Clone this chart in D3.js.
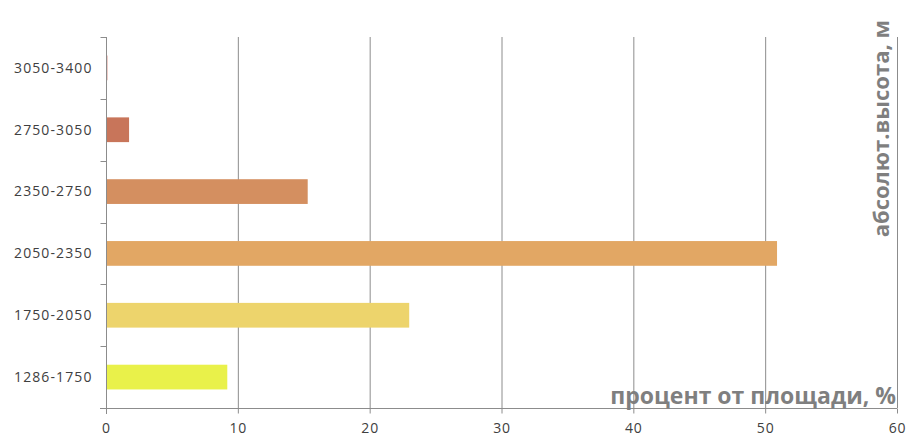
<!DOCTYPE html>
<html><head><meta charset="utf-8">
<script src="https://cdn.jsdelivr.net/npm/d3@7/dist/d3.min.js"></script>
<style>
body{margin:0;background:#fff;}
svg{display:block;}
</style></head>
<body>
<script>
const categories = ["3050-3400","2750-3050","2350-2750","2050-2350","1750-2050","1286-1750"];
const values = [0.1, 1.75, 15.3, 50.9, 23.0, 9.2];
const colors = ["#c9604f","#c8755a","#d48f60","#e2a764","#edd46c","#e9f14a"];
const xTicks = [0,10,20,30,40,50,60];
const xTitle = "процент от площади, %";
const yTitle = "абсолют.высота, м";

const W = 908, H = 439;
const m = {left:106, right:11, top:37, bottom:31};
const svg = d3.select("body").append("svg").attr("width",W).attr("height",H);

const x = d3.scaleLinear().domain([0,60]).range([m.left, W-m.right]);
const y = d3.scaleBand().domain(categories).range([m.top, H-m.bottom]).paddingInner(0.6).paddingOuter(0.3);
const band = d3.scaleBand().domain(categories).range([m.top, H-m.bottom]);

// gridlines
svg.append("g").selectAll("line").data(xTicks.slice(1)).join("line")
  .attr("x1",d=>x(d)+0.5).attr("x2",d=>x(d)+0.5)
  .attr("y1",m.top).attr("y2",H-m.bottom)
  .attr("stroke","#8c8c8c").attr("stroke-width",1);

// bars
svg.append("g").selectAll("rect").data(categories).join("rect")
  .attr("x",x(0))
  .attr("y",d=>y(d))
  .attr("height",y.bandwidth())
  .attr("width",(d,i)=>Math.max(1, x(values[i])-x(0)))
  .attr("fill",(d,i)=>colors[i]);

// x axis
const xa = svg.append("g").attr("transform",`translate(0,${H-m.bottom+0.5})`)
  .call(d3.axisBottom(x).tickValues(xTicks).tickSize(5).tickSizeOuter(0));
xa.select(".domain").attr("stroke","#8c8c8c").attr("d",`M${x(0)-6},0H${x(60)}`);
xa.selectAll(".tick line").attr("stroke","#8c8c8c");
xa.selectAll(".tick text").attr("font-family","'Open Sans', sans-serif").attr("font-size",14)
  .attr("letter-spacing","0.8px")
  .attr("fill","#404040").attr("dy","1.15em");

// y axis: ticks at band boundaries
const ya = svg.append("g").attr("transform",`translate(${x(0)+0.5},0)`);
ya.append("line").attr("x1",0).attr("x2",0).attr("y1",m.top).attr("y2",H-m.bottom+6).attr("stroke","#8c8c8c");
const bounds = categories.map(c=>band(c)).concat([H-m.bottom]);
ya.selectAll("line.t").data(bounds).join("line").attr("class","t")
  .attr("x1",-6).attr("x2",0).attr("y1",d=>Math.round(d)+0.5).attr("y2",d=>Math.round(d)+0.5)
  .attr("stroke","#8c8c8c");
ya.selectAll("text").data(categories).join("text")
  .attr("x",-14).attr("y",d=>band(d)+band.bandwidth()/2)
  .attr("dy","0.35em").attr("text-anchor","end")
  .attr("font-family","'Open Sans', sans-serif").attr("font-size",14).attr("letter-spacing","1.1px")
  .attr("fill","#404040")
  .text(d=>d);

// titles
svg.append("text").attr("x",W-12).attr("y",H-m.bottom-4).attr("text-anchor","end")
  .attr("font-family","'Open Sans', sans-serif").attr("font-weight","bold").attr("font-size",23)
  .attr("fill","#7f7f7f").text(xTitle);
svg.append("text").attr("transform",`translate(${W-19},20) rotate(-90)`).attr("text-anchor","end")
  .attr("font-family","'Open Sans', sans-serif").attr("font-weight","bold").attr("font-size",22)
  .attr("fill","#7f7f7f").text(yTitle);
</script>
</body></html>
